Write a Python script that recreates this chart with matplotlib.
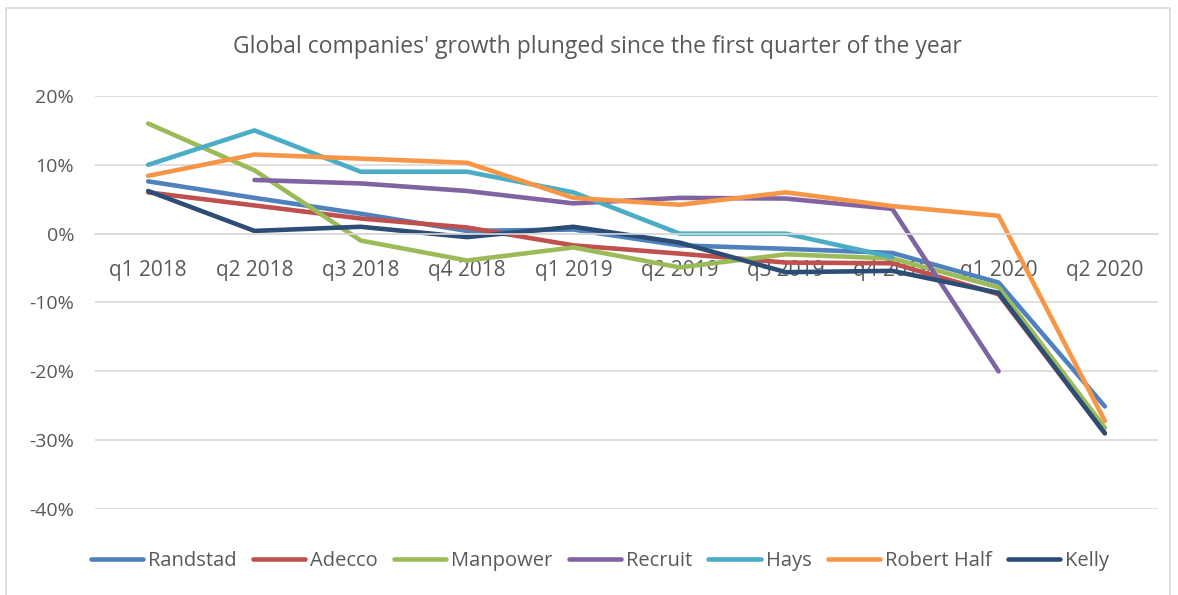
import matplotlib
matplotlib.use("Agg")
import matplotlib.pyplot as plt
import numpy as np
from matplotlib.patches import Rectangle
from matplotlib.ticker import FuncFormatter

quarters = ["q1 2018", "q2 2018", "q3 2018", "q4 2018", "q1 2019",
            "q2 2019", "q3 2019", "q4 2019", "q1 2020", "q2 2020"]

nan = np.nan
randstad = [7.6, 5.2, 2.9, 0.4, 0.6, -1.7, -2.2, -2.8, -7.1, -25.1]
adecco = [6.0, 4.1, 2.2, 0.9, -1.7, -2.9, -4.2, -4.3, -8.8, -29.0]
manpower = [16.0, 9.2, -1.0, -3.9, -2.0, -4.9, -3.0, -3.6, -7.8, -28.2]
recruit = [nan, 7.8, 7.3, 6.2, 4.4, 5.2, 5.1, 3.6, -20.0, nan]
hays = [10.0, 15.0, 9.0, 9.0, 6.0, 0.0, 0.0, -3.4, nan, nan]
robert_half = [8.4, 11.5, 10.9, 10.3, 5.2, 4.2, 6.0, 4.0, 2.6, -27.2]
kelly = [6.2, 0.4, 1.0, -0.5, 1.0, -1.3, -5.6, -5.4, -8.6, -29.0]

series = [
    ("Randstad", randstad, "#4F81BD"),
    ("Adecco", adecco, "#C0504D"),
    ("Manpower", manpower, "#9BBB59"),
    ("Recruit", recruit, "#8064A2"),
    ("Hays", hays, "#4BACC6"),
    ("Robert Half", robert_half, "#F79646"),
    ("Kelly", kelly, "#2C4D75"),
]

INK = "#595959"
GRID = "#d9d9d9"

plt.rcParams["font.family"] = ["Open Sans", "DejaVu Sans"]

fig = plt.figure(figsize=(11.78, 5.95), dpi=100)
fig.patches.append(Rectangle((6 / 1178, -0.01), 1164 / 1178, 1 - 8 / 595 + 0.01,
                             transform=fig.transFigure, fill=False,
                             edgecolor=GRID, linewidth=1.2))

ax = fig.add_axes([95 / 1178, 1 - 509 / 595, 1063 / 1178, 413 / 595])
x = np.arange(len(quarters))
for name, vals, color in series:
    ax.plot(x, vals, color=color, linewidth=3.3, label=name,
            solid_capstyle="round", solid_joinstyle="round")

ax.set_xlim(-0.5, len(quarters) - 0.5)
ax.set_ylim(-40, 20)
ax.set_yticks(np.arange(-40, 21, 10))
ax.yaxis.set_major_formatter(FuncFormatter(lambda v, _: f"{v:.0f}%"))
ax.grid(axis="y", color=GRID, linewidth=1.2)
ax.set_axisbelow(True)
for s in ("top", "right", "left"):
    ax.spines[s].set_visible(False)
ax.spines["bottom"].set_position(("data", 0))
ax.spines["bottom"].set_color(GRID)
ax.spines["bottom"].set_linewidth(1.2)
ax.set_xticks(x)
ax.set_xticklabels(quarters)
ax.tick_params(axis="x", length=0, pad=19, labelsize=15, colors=INK)
ax.tick_params(axis="y", length=0, pad=15, labelsize=14, colors=INK)

fig.text(597 / 1178, 1 - 47 / 595, "Global companies' growth plunged since the first quarter of the year",
         ha="center", va="center", fontsize=16.5, color=INK)

fig.legend(loc="center", bbox_to_anchor=(600 / 1178, 1 - 561 / 595), ncol=7,
           frameon=False, fontsize=14.5, labelcolor=INK, handlelength=2.6,
           handletextpad=0.25, columnspacing=0.8)

fig.savefig("out.png", dpi=100, facecolor="white")
